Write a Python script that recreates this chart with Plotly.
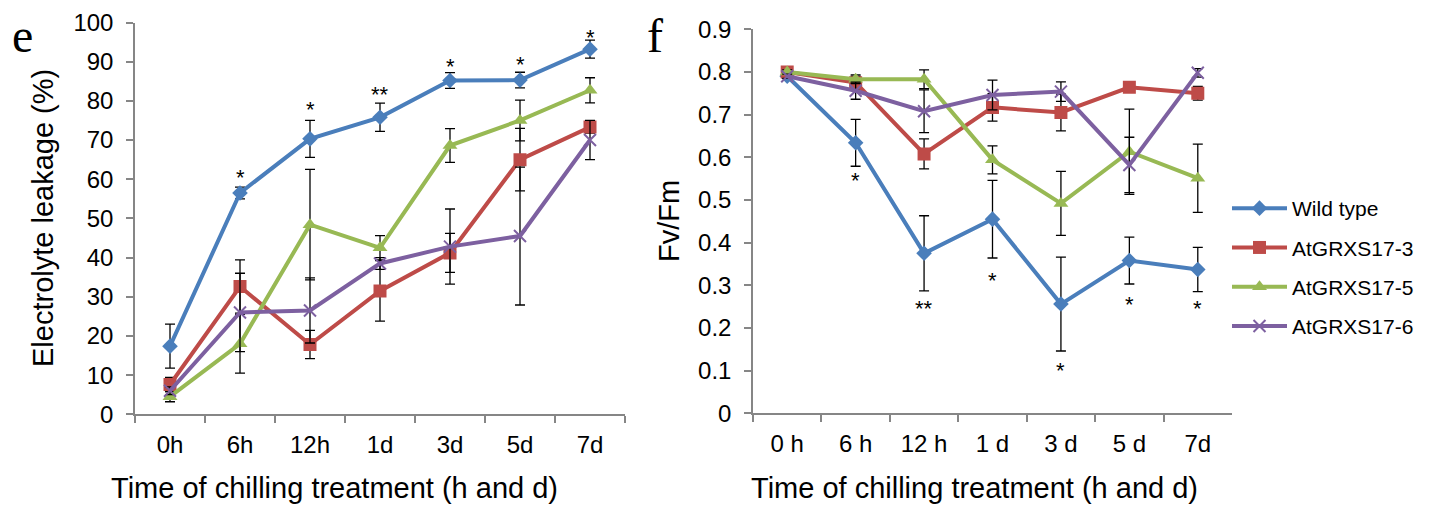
import plotly.graph_objects as go

# ---------------- data ----------------
cats_e = ["0h", "6h", "12h", "1d", "3d", "5d", "7d"]
cats_f = ["0 h", "6 h", "12 h", "1 d", "3 d", "5 d", "7d"]
names = ["Wild type", "AtGRXS17-3", "AtGRXS17-5", "AtGRXS17-6"]

# Electrolyte leakage (%)
el_wt = [17.4, 56.5, 70.3, 75.8, 85.2, 85.3, 93.2]
el_wt_err = [5.6, 1.5, 4.7, 3.6, 2.0, 2.0, 2.3]
el_g3 = [7.6, 32.6, 17.8, 31.5, 41.2, 65.0, 73.3]
el_g3_err = [1.8, 6.8, 3.6, 7.7, 5.0, 8.0, 1.5]
el_g5 = [4.5, 18.0, 48.4, 42.5, 68.6, 75.0, 82.7]
el_g5_err = [1.3, 7.5, 14.1, 3.1, 4.3, 5.2, 3.2]
el_g6 = [6.0, 26.0, 26.5, 38.5, 42.8, 45.5, 70.0]
el_g6_err = [1.0, 10.0, 8.3, 1.5, 9.6, 17.6, 5.0]

# Fv/Fm
ff_wt = [0.79, 0.634, 0.375, 0.455, 0.256, 0.358, 0.337]
ff_wt_err = [0.005, 0.055, 0.088, 0.091, 0.11, 0.055, 0.052]
ff_g3 = [0.80, 0.775, 0.608, 0.717, 0.705, 0.764, 0.750]
ff_g3_err = [0.005, 0.015, 0.035, 0.032, 0.043, 0.010, 0.016]
ff_g5 = [0.80, 0.783, 0.783, 0.594, 0.492, 0.613, 0.551]
ff_g5_err = [0.005, 0.010, 0.022, 0.033, 0.075, 0.100, 0.080]
ff_g6 = [0.79, 0.756, 0.708, 0.746, 0.754, 0.582, 0.798]
ff_g6_err = [0.005, 0.020, 0.050, 0.035, 0.023, 0.065, 0.010]

# significance marks (category, label, value)
el_sig_cat = ["6h", "12h", "1d", "3d", "5d", "7d"]
el_sig_txt = ["*", "*", "**", "*", "*", "*"]
el_sig_val = [61.6, 79.0, 82.8, 90.0, 90.6, 97.4]
ff_sig_cat = ["6 h", "12 h", "1 d", "3 d", "5 d", "7d"]
ff_sig_txt = ["*", "**", "*", "*", "*", "*"]
ff_sig_val = [0.558, 0.258, 0.324, 0.111, 0.266, 0.258]

# ---------------- styling ----------------
colors = ["#4A7EBB", "#BE4B48", "#98B954", "#7D60A0"]
symbols = ["diamond", "square", "triangle-up", "x-thin"]
msizes = [12, 13, 13, 12]
FONT = "Liberation Sans, Arial, sans-serif"
OFF = 8  # page body margin
W, H = 1432 - OFF, 508 - OFF


def px(x):
    return (x - OFF) / W


def py(y):
    return 1 - (y - OFF) / H


fig = go.Figure()

el_series = [(el_wt, el_wt_err), (el_g3, el_g3_err), (el_g5, el_g5_err), (el_g6, el_g6_err)]
ff_series = [(ff_wt, ff_wt_err), (ff_g3, ff_g3_err), (ff_g5, ff_g5_err), (ff_g6, ff_g6_err)]


def marker(i):
    m = dict(symbol=symbols[i], size=msizes[i], color=colors[i])
    if symbols[i] == "x-thin":
        m["line"] = dict(color=colors[i], width=2)
    return m


for i, (vals, err) in enumerate(el_series):
    fig.add_trace(go.Scatter(
        x=cats_e, y=vals, name=names[i], mode="lines+markers",
        line=dict(color=colors[i], width=4), marker=marker(i),
        error_y=dict(type="data", array=err, color="black", thickness=1.3, width=5),
        xaxis="x", yaxis="y", showlegend=False, legendgroup=names[i]))

for i, (vals, err) in enumerate(ff_series):
    fig.add_trace(go.Scatter(
        x=cats_f, y=vals, name=names[i], mode="lines+markers",
        line=dict(color=colors[i], width=4), marker=marker(i),
        error_y=dict(type="data", array=err, color="black", thickness=1.3, width=5),
        xaxis="x2", yaxis="y2", showlegend=True, legendgroup=names[i]))

axis_common = dict(
    showgrid=False, zeroline=False, showline=True, linecolor="#868686", linewidth=1.5,
    ticks="outside", ticklen=7, tickcolor="#868686", tickwidth=1.5, automargin=False,
    tickfont=dict(family=FONT, size=24, color="black"), ticklabelstandoff=8,
    ticklabeloverflow="allow",
)

fig.update_layout(
    template="none",
    width=W, height=H, margin=dict(l=0, r=0, t=0, b=0, autoexpand=False),
    paper_bgcolor="white", plot_bgcolor="white",
    xaxis=dict(domain=[px(135), px(625)], type="category", range=[-0.5, 6.5],
               tickson="boundaries", anchor="y", **axis_common),
    yaxis=dict(domain=[py(414.3), py(22.5)], range=[0, 100], dtick=10,
               anchor="x", **axis_common),
    xaxis2=dict(domain=[px(753), px(1232)], type="category", range=[-0.5, 6.5],
                tickson="boundaries", anchor="y2", **axis_common),
    yaxis2=dict(domain=[py(413.3), py(29.3)], range=[0, 0.9], dtick=0.1,
                tickformat=".1~f", anchor="x2", **axis_common),
    legend=dict(x=px(1227), y=py(188), xanchor="left", yanchor="top",
                font=dict(family=FONT, size=21, color="black"),
                itemwidth=55, tracegroupgap=9, bgcolor="rgba(0,0,0,0)"),
    showlegend=True,
)

ann = []
for c, t, v in zip(el_sig_cat, el_sig_txt, el_sig_val):
    ann.append(dict(x=c, y=v, xref="x", yref="y", text=t, showarrow=False,
                    font=dict(family=FONT, size=22, color="black"), yshift=-5))
for c, t, v in zip(ff_sig_cat, ff_sig_txt, ff_sig_val):
    ann.append(dict(x=c, y=v, xref="x2", yref="y2", text=t, showarrow=False,
                    font=dict(family=FONT, size=22, color="black"), yshift=-5))

# axis titles
ann.append(dict(x=px(334), y=py(488), xref="paper", yref="paper",
                text="Time of chilling treatment (h and d)", showarrow=False,
                xanchor="center", yanchor="middle",
                font=dict(family=FONT, size=29, color="black")))
ann.append(dict(x=px(974), y=py(488), xref="paper", yref="paper",
                text="Time of chilling treatment (h and d)", showarrow=False,
                xanchor="center", yanchor="middle",
                font=dict(family=FONT, size=29, color="black")))
ann.append(dict(x=px(43), y=py(218), xref="paper", yref="paper",
                text="Electrolyte leakage (%)", showarrow=False, textangle=-90,
                xanchor="center", yanchor="middle",
                font=dict(family=FONT, size=29, color="black")))
ann.append(dict(x=px(669), y=py(221), xref="paper", yref="paper",
                text="Fv/Fm", showarrow=False, textangle=-90,
                xanchor="center", yanchor="middle",
                font=dict(family=FONT, size=29, color="black")))
# panel letters
ann.append(dict(x=px(22), y=1, xref="paper", yref="paper", text="e",
                showarrow=False, xanchor="center", yanchor="top", borderpad=0,
                font=dict(family="Liberation Serif, Times New Roman, serif", size=48, color="black")))
ann.append(dict(x=px(655), y=1, xref="paper", yref="paper", text="f",
                showarrow=False, xanchor="center", yanchor="top", borderpad=0,
                font=dict(family="Liberation Serif, Times New Roman, serif", size=48, color="black")))

fig.update_layout(annotations=ann)
fig.write_html("out.html")
